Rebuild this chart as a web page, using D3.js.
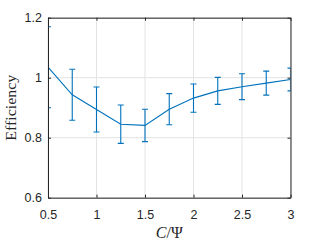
<!DOCTYPE html>
<html><head><meta charset="utf-8">
<script src="https://cdn.jsdelivr.net/npm/d3@7"></script>
<style>body{margin:0;background:#fff}svg{display:block}</style>
</head><body>
<svg id="c" width="320" height="241"></svg>
<script>
const xValues = [0.5, 0.75, 1.0, 1.25, 1.5, 1.75, 2.0, 2.25, 2.5, 2.75, 3.0];
const meanValues = [1.035, 0.943, 0.894, 0.845, 0.841, 0.895, 0.932, 0.956, 0.970, 0.982, 0.994];
const errValues = [0.135, 0.085, 0.075, 0.064, 0.054, 0.052, 0.047, 0.045, 0.043, 0.040, 0.038];
const xTicks = [0.5, 1, 1.5, 2, 2.5, 3];
const yTicks = [0.6, 0.8, 1, 1.2];
const xTickLabels = ["0.5", "1", "1.5", "2", "2.5", "3"];
const yTickLabels = ["0.6", "0.8", "1", "1.2"];

const L = 48, R = 290.5, T = 17.7, B = 197.7;
const x = d3.scaleLinear().domain([0.5, 3]).range([L, R]);
const y = d3.scaleLinear().domain([0.6, 1.2]).range([B, T]);
const svg = d3.select("#c");
const blue = "#0072BD", axc = "#262626";

svg.append("defs").append("clipPath").attr("id", "clip")
  .append("rect").attr("x", L).attr("y", T).attr("width", R - L).attr("height", B - T);

// grid
const g = svg.append("g");
g.selectAll(".gx").data(xTicks).join("line")
  .attr("x1", d => x(d)).attr("x2", d => x(d)).attr("y1", T).attr("y2", B)
  .attr("stroke", "#e3e3e3").attr("stroke-width", 1);
g.selectAll(".gy").data(yTicks).join("line")
  .attr("y1", d => y(d)).attr("y2", d => y(d)).attr("x1", L).attr("x2", R)
  .attr("stroke", "#e3e3e3").attr("stroke-width", 1);

// data
const data = xValues.map((v, i) => ({x: v, m: meanValues[i], e: errValues[i]}));
const dg = svg.append("g").attr("clip-path", "url(#clip)");
dg.append("path").datum(data)
  .attr("d", d3.line().x(d => x(d.x)).y(d => y(d.m)))
  .attr("fill", "none").attr("stroke", blue).attr("stroke-width", 1.1);
const cap = 3;
const eb = dg.selectAll(".eb").data(data).join("g");
eb.append("line").attr("x1", d => x(d.x)).attr("x2", d => x(d.x))
  .attr("y1", d => y(d.m - d.e)).attr("y2", d => y(d.m + d.e))
  .attr("stroke", blue).attr("stroke-width", 1.1);
eb.append("line").attr("x1", d => x(d.x) - cap).attr("x2", d => x(d.x) + cap)
  .attr("y1", d => y(d.m + d.e)).attr("y2", d => y(d.m + d.e))
  .attr("stroke", blue).attr("stroke-width", 1.1);
eb.append("line").attr("x1", d => x(d.x) - cap).attr("x2", d => x(d.x) + cap)
  .attr("y1", d => y(d.m - d.e)).attr("y2", d => y(d.m - d.e))
  .attr("stroke", blue).attr("stroke-width", 1.1);

// axes
const xa = svg.append("g").attr("transform", `translate(0,${B})`)
  .call(d3.axisBottom(x).tickValues(xTicks).tickFormat((d, i) => xTickLabels[i]).tickSizeInner(-3).tickSizeOuter(0).tickPadding(12));
const xt = svg.append("g").attr("transform", `translate(0,${T})`)
  .call(d3.axisTop(x).tickValues(xTicks).tickFormat("").tickSizeInner(-3).tickSizeOuter(0));
const ya = svg.append("g").attr("transform", `translate(${L},0)`)
  .call(d3.axisLeft(y).tickValues(yTicks).tickFormat((d, i) => yTickLabels[i]).tickSizeInner(-3).tickSizeOuter(0).tickPadding(6));
const yr = svg.append("g").attr("transform", `translate(${R},0)`)
  .call(d3.axisRight(y).tickValues(yTicks).tickFormat("").tickSizeInner(-3).tickSizeOuter(0));
[xa, xt, ya, yr].forEach(a => {
  a.select(".domain").attr("stroke", axc).attr("stroke-width", 1);
  a.selectAll(".tick line").attr("stroke", axc).attr("stroke-width", 1);
  a.selectAll("text").attr("fill", axc).attr("font-family", "Liberation Sans, Arial, sans-serif").attr("font-size", 12.5);
});

// labels
svg.append("text").attr("x", (L + R) / 2).attr("y", 238).attr("text-anchor", "middle")
  .attr("font-family", "Liberation Serif, serif").attr("font-size", 16).attr("fill", axc)
  .html('<tspan font-style="italic">C</tspan>/Ψ');
svg.append("text").attr("transform", `translate(16,${(T + B) / 2}) rotate(-90)`)
  .attr("text-anchor", "middle").attr("font-family", "Liberation Serif, serif")
  .attr("font-size", 15).attr("textLength", 66).attr("lengthAdjust", "spacingAndGlyphs")
  .attr("fill", axc).text("Efficiency");
</script>
</body></html>
